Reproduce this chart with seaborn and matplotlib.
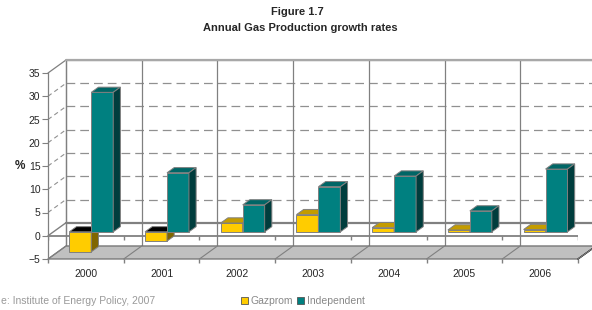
import numpy as np
import pandas as pd
import matplotlib
matplotlib.use('Agg')
import matplotlib.pyplot as plt
import seaborn as sns
from matplotlib.patches import Polygon, Patch

# data (growth rates, %)
years = ['2000', '2001', '2002', '2003', '2004', '2005', '2006']
gazprom = [-4.3, -2.0, 1.9, 3.7, 0.9, 0.4, 0.5]
independent = [30.0, 12.7, 5.8, 9.7, 12.0, 4.5, 13.5]
series_names = ['Gazprom', 'Independent']
y_ticks = [-5, 0, 5, 10, 15, 20, 25, 30, 35]

# colours: front / top / side
faces = {
    'Gazprom': ('#FFCC00', '#C49C00', '#806600'),
    'Independent': ('#008080', '#006666', '#003D3D'),
}
edge = '#808080'

sns.set_style('white')
plt.rcParams['font.family'] = ['Liberation Sans', 'DejaVu Sans']

df = pd.DataFrame({
    'year': years * 2,
    'value': gazprom + independent,
    'series': [series_names[0]] * len(years) + [series_names[1]] * len(years),
})

W, H = 592, 310
fig = plt.figure(figsize=(W / 100, H / 100), dpi=100)
ax = fig.add_axes([48 / W, (H - 259) / H, 530 / W, 186 / H])

# depth of the fake 3d box in data units
DX = 18 / 530 * 7
DY = 13 / 186 * 40
d0, dd = 0.3, 0.4   # bar front depth and bar thickness (fraction of box depth)

sns.barplot(data=df, x='year', y='value', hue='series', order=years,
            hue_order=series_names, palette=[faces[s][0] for s in series_names],
            width=0.58, saturation=1, edgecolor=edge, linewidth=0.7,
            legend=False, ax=ax)

ax.set_xlim(-0.5, 6.5)
ax.set_ylim(-5, 35)
bounds = np.arange(-0.5, 7, 1)

# back wall, side wall and floor
ax.add_patch(Polygon([(-0.5 + DX, -5 + DY), (6.5 + DX, -5 + DY), (6.5 + DX, 35 + DY),
                      (-0.5 + DX, 35 + DY)], closed=True, facecolor='white',
                     edgecolor=edge, lw=0.9, zorder=0.5, clip_on=False))
for y in y_ticks[2:-1]:
    ax.plot([-0.5 + DX, 6.5 + DX], [y + DY, y + DY], color='#909090', lw=0.9,
            ls=(0, (7, 4)), zorder=0.6, clip_on=False)
    ax.plot([-0.5, -0.5 + DX], [y, y + DY], color='#909090', lw=0.8,
            ls=(0, (4, 3)), zorder=0.6, clip_on=False)
ax.plot([-0.5 + DX, 6.5 + DX], [35 + DY, 35 + DY], color='#A8A8A8', lw=1.6,
        zorder=0.7, clip_on=False)
ax.plot([-0.5 + DX, 6.5 + DX], [DY, DY], color=edge, lw=1.6, zorder=0.6, clip_on=False)
ax.plot([-0.5, -0.5 + DX], [0, DY], color=edge, lw=1.0, zorder=0.6, clip_on=False)
ax.plot([-0.5, -0.5 + DX], [35, 35 + DY], color=edge, lw=0.9, zorder=0.6, clip_on=False)
for b in bounds:
    ax.plot([b + DX, b + DX], [-5 + DY, 35 + DY], color=edge, lw=0.9,
            zorder=0.6, clip_on=False)

ax.add_patch(Polygon([(-0.5, -5), (6.5, -5), (6.5 + DX, -5 + DY), (-0.5 + DX, -5 + DY)],
                     closed=True, facecolor='#C0C0C0', edgecolor='#707070', lw=0.9,
                     zorder=0.8, clip_on=False))
ax.plot([6.5, 6.5 + DX], [-5, -5 + DY], color='black', lw=1.0, zorder=0.9, clip_on=False)
for b in bounds:
    ax.plot([b, b + DX], [-5, -5 + DY], color=edge, lw=0.8, zorder=0.9, clip_on=False)

# front zero line with its ticks
ax.hlines(0, -0.5, 6.5, color=edge, lw=1.3, zorder=1)
ax.vlines(bounds, -0.9, 0, color=edge, lw=1.0, zorder=1)

# push the bars into the box and add top / side faces
ox, oy = dd * DX, dd * DY
for k, (name, cont) in enumerate(zip(series_names, ax.containers)):
    front, top, side = faces[name]
    for i, p in enumerate(cont.patches):
        p.set_x(p.get_x() + d0 * DX)
        p.set_y(p.get_y() + d0 * DY)
        z = 2 + i * 2 + k
        p.set_zorder(z)
        xl = p.get_x()
        xr = xl + p.get_width()
        y1, y2 = p.get_y(), p.get_y() + p.get_height()
        yb, yt = min(y1, y2), max(y1, y2)
        tcol = 'black' if p.get_height() < 0 else top
        ax.add_patch(Polygon([(xl, yt), (xr, yt), (xr + ox, yt + oy), (xl + ox, yt + oy)],
                             closed=True, facecolor=tcol, edgecolor=edge, lw=0.7,
                             zorder=z, clip_on=False))
        ax.add_patch(Polygon([(xr, yb), (xr, yt), (xr + ox, yt + oy), (xr + ox, yb + oy)],
                             closed=True, facecolor=side, edgecolor=edge, lw=0.7,
                             zorder=z, clip_on=False))

# axes, ticks, labels
for s in ['top', 'right', 'bottom']:
    ax.spines[s].set_visible(False)
ax.spines['left'].set_color(edge)
ax.spines['left'].set_linewidth(0.9)
ax.set_yticks(y_ticks)
ax.tick_params(axis='y', length=4, color=edge, labelsize=7.5, pad=1.5, left=True)
ax.set_xticks(range(len(years)), labels=years)
ax.set_xticks(bounds, minor=True)
ax.tick_params(axis='x', which='major', length=0, labelsize=7.5, pad=7)
ax.tick_params(axis='x', which='minor', length=3, color=edge, width=1.0, bottom=True)
ax.set_xlabel('')
ax.set_ylabel('%', rotation=0, fontsize=8.5, fontweight='bold', labelpad=6, va='center')

fig.text(297 / W, 1 - 12 / H, 'Figure 1.7', ha='center', va='center',
         fontsize=8, fontweight='bold')
fig.text(300 / W, 1 - 28 / H, 'Annual Gas Production growth rates', ha='center',
         va='center', fontsize=8, fontweight='bold')
# the source line is cut at the left edge in the original; keep the visible part
fig.text(1 / W, 9 / H, 'e: Institute of Energy Policy, 2007', ha='left',
         va='center', fontsize=7.5, color='#999999')

handles = [Patch(facecolor=faces[s][0], edgecolor='#555555', lw=0.6) for s in series_names]
leg = fig.legend(handles, series_names, loc='center', bbox_to_anchor=(303 / W, 9 / H),
                 ncol=2, frameon=False, fontsize=7.5, handlelength=0.6, handleheight=0.6,
                 handletextpad=0.3, columnspacing=0.4, borderpad=0)
for t in leg.get_texts():
    t.set_color('#888888')

fig.savefig('out.png', dpi=100)
